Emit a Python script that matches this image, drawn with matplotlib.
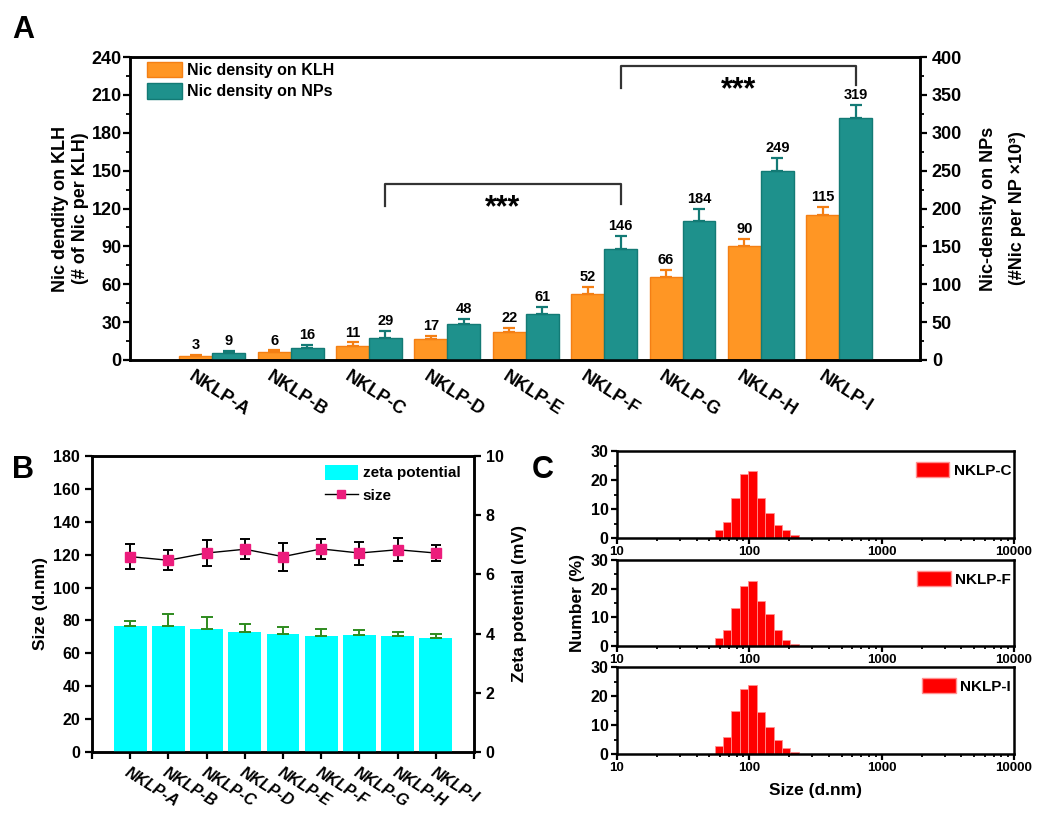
import numpy as np
import matplotlib
matplotlib.use("Agg")
from matplotlib import pyplot as plt
from matplotlib.patches import Patch
from matplotlib.lines import Line2D
from matplotlib.ticker import MultipleLocator, LogLocator, NullFormatter, FixedLocator

plt.rcParams['font.family'] = ['Liberation Sans', 'DejaVu Sans']
plt.rcParams['font.weight'] = 'bold'
plt.rcParams['axes.labelweight'] = 'bold'
plt.rcParams['axes.linewidth'] = 1.8
plt.rcParams['xtick.major.width'] = 1.6
plt.rcParams['ytick.major.width'] = 1.6
plt.rcParams['xtick.minor.width'] = 1.3
plt.rcParams['ytick.minor.width'] = 1.3

# --- donnees panneau A
groups = ["NKLP-A", "NKLP-B", "NKLP-C", "NKLP-D", "NKLP-E", "NKLP-F", "NKLP-G", "NKLP-H", "NKLP-I"]
klh = [3, 6, 11, 17, 22, 52, 66, 90, 115]
klh_err = [1.3, 1.6, 2.9, 2.1, 3.2, 6.0, 5.3, 6.0, 6.3]
nps = [9, 16, 29, 48, 61, 146, 184, 249, 319]
nps_err = [3, 3.5, 9.2, 6.6, 8.8, 17.6, 15.8, 18, 17.6]

# --- donnees panneau B
size = [118.8, 116.6, 121.0, 123.3, 118.8, 123.5, 121.0, 123.0, 121.0]
size_err = [7.7, 6.0, 8.0, 6.0, 8.5, 6.0, 7.0, 7.0, 4.7]
zeta = [4.26, 4.25, 4.16, 4.05, 3.97, 3.93, 3.94, 3.92, 3.86]
zeta_err = [0.17, 0.42, 0.40, 0.27, 0.25, 0.22, 0.19, 0.12, 0.13]

# --- donnees panneau C (distribution DLS en nombre)
dls_size = [58.77, 68.06, 78.82, 91.28, 105.7, 122.4, 141.8, 164.2, 190.1, 220.2]
dls_names = ["NKLP-C", "NKLP-F", "NKLP-I"]
dls_c = [2.9, 5.6, 13.8, 21.9, 23.0, 13.8, 8.5, 4.5, 2.9, 1.0]
dls_f = [2.7, 5.7, 13.1, 20.9, 22.8, 15.7, 11.0, 5.6, 2.2, 0.7]
dls_i = [2.6, 5.8, 14.9, 22.3, 23.7, 14.4, 9.2, 5.0, 1.9, 0.6]

orange = '#FF9624'
orange_e = '#F47F14'
teal = '#1E918C'
teal_e = '#137A75'

W, H = 1050, 814
fig = plt.figure(figsize=(W / 100, H / 100), dpi=100)


def box(l, t, r, b):
    return [l / W, 1 - b / H, (r - l) / W, (b - t) / H]


# ================= Panneau A =================
axA = fig.add_axes(box(130, 57, 920, 360))
axA2 = axA.twinx()
x = np.arange(len(groups))
w = 0.42
axA.bar(x - w / 2, klh, w, color=orange, edgecolor=orange_e, lw=1,
        yerr=[np.zeros(len(klh)), klh_err],
        error_kw=dict(ecolor=orange_e, capsize=4, elinewidth=1.6, capthick=1.6))
axA2.bar(x + w / 2, nps, w, color=teal, edgecolor=teal_e, lw=1,
         yerr=[np.zeros(len(nps)), nps_err],
         error_kw=dict(ecolor=teal_e, capsize=4, elinewidth=1.6, capthick=1.6))
for i in range(len(groups)):
    axA.annotate(str(klh[i]), (x[i] - w / 2, klh[i] + klh_err[i]), xytext=(0, 2),
                 textcoords='offset points', ha='center', va='bottom', fontsize=10.5)
    axA2.annotate(str(nps[i]), (x[i] + w / 2, nps[i] + nps_err[i]), xytext=(0, 2),
                  textcoords='offset points', ha='center', va='bottom', fontsize=10.5)

axA.set_xlim(-1.05, 9.03)
axA.set_ylim(0, 240)
axA2.set_ylim(0, 400)
axA.yaxis.set_major_locator(MultipleLocator(30))
axA.yaxis.set_minor_locator(MultipleLocator(15))
axA2.yaxis.set_major_locator(MultipleLocator(50))
axA2.yaxis.set_minor_locator(MultipleLocator(25))
# les etiquettes sont un peu decalees vers la droite dans l'original (pas de tirets visibles)
axA.set_xticks(x + 0.08)
axA.set_xticklabels(groups, rotation=-33, ha='center', fontsize=13)
axA.tick_params(axis='x', length=0, pad=6)
axA.tick_params(axis='y', labelsize=13, length=5, direction='out', pad=1)
axA.tick_params(axis='y', which='minor', length=3)
axA2.tick_params(axis='y', labelsize=13, length=5, direction='out')
axA2.tick_params(axis='y', which='minor', length=3)
axA.set_ylabel("Nic dendity on KLH\n(# of Nic per KLH)", fontsize=13, labelpad=1.5, linespacing=1.3)
axA2.set_ylabel("Nic-density on NPs\n(#Nic per NP \u00d710\u00b3)", fontsize=13, labelpad=13,
                linespacing=1.9)

# crochets de significativite (sur l'axe de gauche)
for x0, x1, ytop, y0, y1, ystar in [(2 + w / 2, 5 + w / 2, 139.4, 121.7, 123.3, 114),
                                    (5 + w / 2, 8 + w / 2, 232.8, 215.6, 217.8, 207)]:
    axA.plot([x0, x0, x1, x1], [y0, ytop, ytop, y1], color='#333333', lw=1.6, zorder=5)
    axA.text((x0 + x1) / 2, ystar, "***", ha='center', va='baseline', fontsize=22)

axA.legend(handles=[Patch(facecolor=orange, edgecolor=orange_e, label="Nic density on KLH"),
                    Patch(facecolor=teal, edgecolor=teal_e, label="Nic density on NPs")],
           loc='upper left', bbox_to_anchor=(0.022, 0.985), frameon=False, fontsize=11.5,
           borderaxespad=0, borderpad=0,
           handlelength=2.15, handleheight=1.1, handletextpad=0.35, labelspacing=0.35)
fig.text(12 / W, 1 - 30 / H, "A", fontsize=22, va='center')

# ================= Panneau B =================
axB = fig.add_axes(box(92, 456, 474, 752))
axB2 = axB.twinx()
xb = np.arange(len(groups))
axB2.bar(xb, zeta, 0.86, color='#00FFFF', yerr=[np.zeros(len(zeta)), zeta_err],
         error_kw=dict(ecolor='#2E8B1E', capsize=4, elinewidth=1.4, capthick=1.4))
axB.errorbar(xb, size, yerr=size_err, color='black', lw=1, marker='s', ms=7,
             mfc='#EC1C7C', mec='#EC1C7C', capsize=3.5, elinewidth=1.4, capthick=1.4, zorder=5)
axB.set_xlim(-1, 9)
axB.set_ylim(0, 180)
axB2.set_ylim(0, 10)
axB.yaxis.set_major_locator(MultipleLocator(20))
axB2.yaxis.set_major_locator(MultipleLocator(2))
axB.set_xticks(np.arange(-1, 10))
axB.set_xticklabels([""] + groups + [""], rotation=-32, ha='left', va='top',
                    rotation_mode='anchor', fontsize=11.5, style='italic')
axB.tick_params(axis='x', length=5, direction='out', pad=4)
axB.tick_params(axis='y', labelsize=11.5, length=5, direction='out')
axB2.tick_params(axis='y', labelsize=11.5, length=5, direction='out')
axB.set_ylabel("Size (d.nm)", fontsize=12.5, labelpad=4)
axB2.set_ylabel("Zeta potential (mV)", fontsize=12.5, labelpad=6)
axB2.legend(handles=[Patch(facecolor='#00FFFF', label="zeta potential"),
                     Line2D([], [], color='black', lw=1, marker='s', ms=6,
                            mfc='#EC1C7C', mec='#EC1C7C', label="size")],
            loc='upper right', bbox_to_anchor=(0.965, 0.97), frameon=False, fontsize=11,
            borderaxespad=0, borderpad=0,
            handlelength=2.2, handleheight=1.1, handletextpad=0.3, labelspacing=0.45)
fig.text(12 / W, 1 - 470 / H, "B", fontsize=22, va='center')

# ================= Panneau C =================
half = np.sqrt(dls_size[1] / dls_size[0])
left_edges = [s / half for s in dls_size]
widths = [s * half - s / half for s in dls_size]
frames = [(451, 538), (560, 646), (667, 754)]
axs_c = []
for k, (name, vals) in enumerate(zip(dls_names, [dls_c, dls_f, dls_i])):
    ax = fig.add_axes(box(617, frames[k][0], 1014, frames[k][1]))
    ax.bar(left_edges, vals, widths, align='edge', color='#FF0000', edgecolor='#FF9090', lw=0.6)
    ax.set_xscale('log')
    ax.set_xlim(10, 10000)
    ax.set_ylim(0, 30)
    ax.yaxis.set_major_locator(MultipleLocator(10))
    ax.yaxis.set_minor_locator(MultipleLocator(5))
    ax.xaxis.set_major_locator(FixedLocator([10, 100, 1000, 10000]))
    ax.xaxis.set_minor_locator(LogLocator(base=10, subs=np.arange(2, 10)))
    ax.xaxis.set_minor_formatter(NullFormatter())
    ax.set_xticklabels(["10", "100", "1000", "10000"])
    ax.tick_params(axis='x', labelsize=9.5, length=4, direction='out', pad=2)
    ax.tick_params(axis='x', which='minor', length=2.5)
    ax.tick_params(axis='y', labelsize=11.5, length=4, direction='out', pad=2)
    ax.tick_params(axis='y', which='minor', length=2.5)
    ax.legend(handles=[Patch(facecolor='#FF0000', edgecolor='#FF9090', label=name)],
              loc='upper right', bbox_to_anchor=(0.993, 0.87), frameon=False, fontsize=11,
              borderaxespad=0, borderpad=0,
              handlelength=2.2, handleheight=1.1, handletextpad=0.3)
    axs_c.append(ax)
axs_c[1].set_ylabel("Number (%)", fontsize=12.5, labelpad=4)
axs_c[2].set_xlabel("Size (d.nm)", fontsize=12.5, labelpad=6)
fig.text(532 / W, 1 - 470 / H, "C", fontsize=22, va='center')

fig.savefig("out.png", dpi=100)
